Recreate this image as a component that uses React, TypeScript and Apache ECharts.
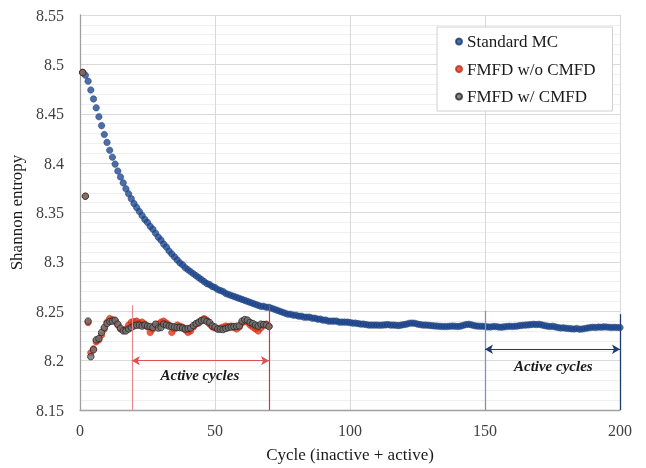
import React, { useEffect, useRef } from 'react';
import * as echarts from 'echarts';

const seriesNames = ['Standard MC', 'FMFD w/o CMFD', 'FMFD w/ CMFD'];
const xTicks = { min: 0, max: 200, interval: 50 };
const yTicks = { min: 8.15, max: 8.55, interval: 0.05 };

// Shannon entropy per cycle (cycle 1..200)
const standardMC = [
  8.492, 8.489, 8.483, 8.474, 8.465, 8.456, 8.447, 8.438, 8.429, 8.421,
  8.413, 8.406, 8.399, 8.392, 8.386, 8.380, 8.374, 8.369, 8.364, 8.359,
  8.355, 8.351, 8.347, 8.343, 8.340, 8.336, 8.333, 8.329, 8.325, 8.322,
  8.318, 8.315, 8.311, 8.308, 8.305, 8.302, 8.299, 8.297, 8.294, 8.292,
  8.290, 8.288, 8.286, 8.284, 8.282, 8.280, 8.278, 8.277, 8.275, 8.274,
  8.272, 8.271, 8.270, 8.268, 8.267, 8.266, 8.265, 8.264, 8.263, 8.262,
  8.261, 8.260, 8.259, 8.258, 8.257, 8.256, 8.255, 8.255, 8.254, 8.254,
  8.253, 8.252, 8.251, 8.250, 8.249, 8.248, 8.247, 8.247, 8.246, 8.246,
  8.245, 8.245, 8.244, 8.244, 8.244, 8.243, 8.243, 8.242, 8.242, 8.241,
  8.241, 8.240, 8.240, 8.240, 8.240, 8.239, 8.239, 8.239, 8.239, 8.2385,
  8.238, 8.238, 8.2375, 8.237, 8.237, 8.2365, 8.236, 8.236, 8.236, 8.236,
  8.2358, 8.236, 8.2362, 8.2365, 8.236, 8.236, 8.2358, 8.2355, 8.236, 8.2365,
  8.237, 8.2378, 8.238, 8.2378, 8.237, 8.2365, 8.236, 8.236, 8.2358, 8.2355,
  8.2352, 8.235, 8.2348, 8.2345, 8.2345, 8.2345, 8.2348, 8.235, 8.2348, 8.2345,
  8.235, 8.2358, 8.2365, 8.2368, 8.2362, 8.2355, 8.235, 8.2348, 8.2348, 8.2345,
  8.2342, 8.234, 8.2345, 8.2345, 8.234, 8.2338, 8.2342, 8.2345, 8.2348, 8.2345,
  8.2348, 8.235, 8.2355, 8.2358, 8.236, 8.2362, 8.2365, 8.2368, 8.2365, 8.2368,
  8.2362, 8.2355, 8.235, 8.2345, 8.2348, 8.2342, 8.2335, 8.233, 8.2332, 8.2328,
  8.2325, 8.2322, 8.232, 8.2325, 8.2318, 8.232, 8.2325, 8.233, 8.2335, 8.2338,
  8.2335, 8.234, 8.2338, 8.2342, 8.234, 8.2338, 8.2335, 8.2338, 8.2335, 8.2335,
];

// cycle 1..70
const fmfdWoCmfd = [
  8.4917, 8.3665, 8.2385, 8.208, 8.212, 8.219, 8.221, 8.226, 8.232, 8.239,
  8.2426, 8.2415, 8.240, 8.236, 8.232, 8.231, 8.232, 8.236, 8.239, 8.2395,
  8.240, 8.238, 8.239, 8.237, 8.234, 8.2285, 8.232, 8.236, 8.237, 8.239,
  8.240, 8.238, 8.236, 8.2285, 8.232, 8.236, 8.235, 8.234, 8.231, 8.2285,
  8.230, 8.234, 8.237, 8.238, 8.241, 8.2425, 8.241, 8.237, 8.234, 8.233,
  8.232, 8.233, 8.234, 8.235, 8.2345, 8.235, 8.2335, 8.232, 8.234, 8.238,
  8.240, 8.239, 8.236, 8.234, 8.232, 8.230, 8.233, 8.236, 8.237, 8.235,
];

// cycle 1..70
const fmfdWCmfd = [
  8.4917, 8.3665, 8.240, 8.204, 8.211, 8.221, 8.2224, 8.2285, 8.2335, 8.2376,
  8.2396, 8.240, 8.2409, 8.2369, 8.2328, 8.2301, 8.2301, 8.232, 8.2335, 8.2352,
  8.2359, 8.2359, 8.235, 8.236, 8.235, 8.2345, 8.2335, 8.2369, 8.233, 8.2335,
  8.2369, 8.236, 8.235, 8.2345, 8.234, 8.2335, 8.2335, 8.233, 8.232, 8.2325,
  8.233, 8.2355, 8.2375, 8.239, 8.2405, 8.2412, 8.2396, 8.2386, 8.2352, 8.234,
  8.232, 8.2318, 8.2315, 8.2325, 8.2335, 8.234, 8.2345, 8.2348, 8.2352, 8.240,
  8.2415, 8.241, 8.2386, 8.2376, 8.236, 8.235, 8.2369, 8.2365, 8.236, 8.2345,
];

// annotation positions (data coordinates)
const fmfdActive = { start: 19.2, end: 70, top: 8.256, arrowY: 8.2, textX: 44.4, textY: 8.1853 };
const mcActive = { start: 150, end: 200, topStart: 8.2503, topEnd: 8.247, arrowY: 8.2115, textX: 175.3, textY: 8.1946 };
const annotationText = 'Active cycles';

const FONT = '"Liberation Serif", "Times New Roman", serif';

export default function App() {
  const ref = useRef<HTMLDivElement>(null);
  useEffect(() => {
    document.body.style.margin = '0';
    if (!ref.current) return;
    const chart = echarts.init(ref.current, undefined, { renderer: 'svg' });
    const toPts = (arr: number[]) => arr.map((v, i) => [i + 1, v]);
    const redLine = '#d9534f';
    const blueLineLight = '#7f93b8';
    const blueLineDark = '#1f3a6e';
    const textLabel = {
      show: true,
      position: 'inside',
      formatter: annotationText,
      fontFamily: FONT,
      fontStyle: 'italic',
      fontWeight: 'bold',
      fontSize: 15,
      color: '#1a1a1a',
    };
    const option: any = {
      animation: false,
      textStyle: { fontFamily: FONT },
      grid: { left: 80, right: 26, top: 15, bottom: 56, containLabel: false },
      legend: {
        data: seriesNames,
        orient: 'vertical',
        left: 437,
        top: 27,
        padding: [6, 17, 6, 18],
        itemGap: 10.5,
        itemWidth: 6,
        itemHeight: 6,
        icon: 'circle',
        backgroundColor: '#ffffff',
        borderColor: '#d0d0d0',
        borderWidth: 1,
        textStyle: { fontFamily: FONT, fontSize: 17, color: '#1a1a1a', lineHeight: 17 },
      },
      xAxis: {
        type: 'value',
        min: xTicks.min,
        max: xTicks.max,
        interval: xTicks.interval,
        name: 'Cycle (inactive + active)',
        nameLocation: 'middle',
        nameGap: 36,
        nameTextStyle: { fontFamily: FONT, fontSize: 17, color: '#1a1a1a' },
        axisLine: { show: true, lineStyle: { color: '#a0a0a0', width: 1.3 } },
        axisTick: { show: false },
        axisLabel: { fontFamily: FONT, fontSize: 16, color: '#404040', margin: 12 },
        splitLine: { show: true, lineStyle: { color: '#d9d9d9', width: 1 } },
      },
      yAxis: {
        type: 'value',
        min: yTicks.min,
        max: yTicks.max,
        interval: yTicks.interval,
        name: 'Shannon entropy',
        nameLocation: 'middle',
        nameGap: 44,
        nameTextStyle: { fontFamily: FONT, fontSize: 17, color: '#1a1a1a' },
        axisLine: { show: true, lineStyle: { color: '#a0a0a0', width: 1.3 } },
        axisTick: { show: false },
        axisLabel: {
          fontFamily: FONT,
          fontSize: 16,
          color: '#404040',
          margin: 16,
          formatter: (v: number) => String(parseFloat(v.toFixed(2))),
        },
        splitLine: { show: true, lineStyle: { color: '#d9d9d9', width: 1 } },
        minorTick: { show: false, splitNumber: 5 },
        minorSplitLine: { show: true, lineStyle: { color: '#efefef', width: 1 } },
      },
      series: [
        {
          name: seriesNames[0],
          type: 'scatter',
          data: toPts(standardMC),
          symbol: 'circle',
          symbolSize: 6.5,
          itemStyle: { color: '#1f4a94', borderColor: '#17376e', borderWidth: 0.6 },
          z: 2,
          markLine: {
            silent: true,
            symbol: ['none', 'none'],
            label: { show: false },
            animation: false,
            data: [
              [
                { coord: [mcActive.start, mcActive.topStart], lineStyle: { color: blueLineLight, width: 1.3, type: 'solid' } },
                { coord: [mcActive.start, yTicks.min] },
              ],
              [
                { coord: [mcActive.end, mcActive.topEnd], lineStyle: { color: blueLineDark, width: 1.3, type: 'solid' } },
                { coord: [mcActive.end, yTicks.min] },
              ],
              [
                { coord: [mcActive.start, mcActive.arrowY], symbol: 'arrow', symbolSize: [7, 8], lineStyle: { color: blueLineDark, width: 1.2, type: 'solid' } },
                { coord: [mcActive.end, mcActive.arrowY], symbol: 'arrow', symbolSize: [7, 8] },
              ],
            ],
          },
          markPoint: {
            silent: true,
            symbol: 'circle',
            symbolSize: 0,
            data: [{ coord: [mcActive.textX, mcActive.textY], label: textLabel }],
          },
        },
        {
          name: seriesNames[1],
          type: 'scatter',
          data: toPts(fmfdWoCmfd),
          symbol: 'circle',
          symbolSize: 6.5,
          itemStyle: { color: '#e2361a', borderColor: '#c02810', borderWidth: 0.6 },
          z: 3,
          markLine: {
            silent: true,
            symbol: ['none', 'none'],
            label: { show: false },
            animation: false,
            data: [
              [
                { coord: [fmfdActive.start, fmfdActive.top], lineStyle: { color: '#e88a8a', width: 1.2, type: 'solid' } },
                { coord: [fmfdActive.start, yTicks.min] },
              ],
              [
                { coord: [fmfdActive.end, fmfdActive.top], lineStyle: { color: '#c83c3c', width: 1.2, type: 'solid' } },
                { coord: [fmfdActive.end, yTicks.min] },
              ],
              [
                { coord: [fmfdActive.start, fmfdActive.arrowY], symbol: 'arrow', symbolSize: [7, 8], lineStyle: { color: redLine, width: 1.2, type: 'solid' } },
                { coord: [fmfdActive.end, fmfdActive.arrowY], symbol: 'arrow', symbolSize: [7, 8] },
              ],
            ],
          },
          markPoint: {
            silent: true,
            symbol: 'circle',
            symbolSize: 0,
            data: [{ coord: [fmfdActive.textX, fmfdActive.textY], label: textLabel }],
          },
        },
        {
          name: seriesNames[2],
          type: 'scatter',
          data: toPts(fmfdWCmfd),
          symbol: 'circle',
          symbolSize: 6.5,
          itemStyle: { color: '#707070', borderColor: '#262626', borderWidth: 1 },
          z: 4,
        },
      ],
    };
    chart.setOption(option);
    return () => chart.dispose();
  }, []);
  return <div ref={ref} style={{ position: 'fixed', left: 0, top: 0, width: 646, height: 468 }} />;
}
